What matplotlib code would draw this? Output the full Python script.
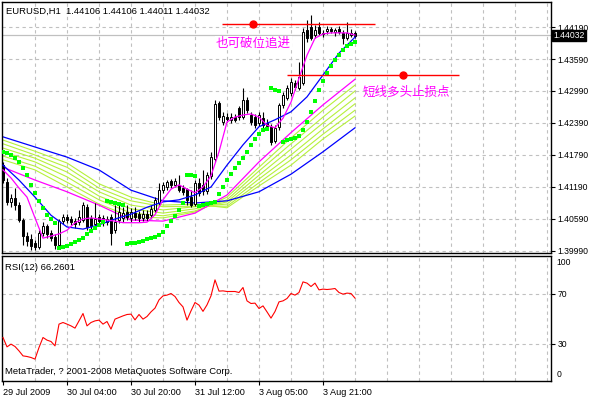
#!/usr/bin/env python3
import numpy as np
import matplotlib
matplotlib.use('Agg')
import matplotlib.pyplot as plt
import matplotlib.transforms as mtransforms

plt.rcParams['font.family'] = ['Liberation Sans', 'DejaVu Sans']

# EURUSD H1 candles, oldest first
opens = [1.4160, 1.4128, 1.4091, 1.4098, 1.4085, 1.4057, 1.4027, 1.4022, 1.4014, 1.4007,
         1.4033, 1.4046, 1.4033, 1.4025, 1.4010, 1.4055, 1.4063, 1.4059, 1.4055, 1.4053,
         1.4057, 1.4082, 1.4061, 1.4050, 1.4063, 1.4061, 1.4053, 1.4063, 1.4038, 1.4057,
         1.4061, 1.4072, 1.4061, 1.4070, 1.4068, 1.4061, 1.4068, 1.4067, 1.4076, 1.4089,
         1.4113, 1.4119, 1.4130, 1.4123, 1.4123, 1.4117, 1.4115, 1.4100, 1.4087, 1.4127,
         1.4123, 1.4112, 1.4140, 1.4172, 1.4277, 1.4241, 1.4250, 1.4245, 1.4250, 1.4267,
         1.4250, 1.4282, 1.4254, 1.4250, 1.4239, 1.4248, 1.4239, 1.4232, 1.4205, 1.4232,
         1.4273, 1.4286, 1.4295, 1.4314, 1.4305, 1.4314, 1.4413, 1.4419, 1.4404, 1.4419,
         1.4408, 1.4411, 1.4415, 1.4410, 1.4415, 1.4408, 1.4398, 1.4404, 1.4408]
highs = [1.4166, 1.4136, 1.4106, 1.4117, 1.4091, 1.4061, 1.4035, 1.4031, 1.4020, 1.4038,
         1.4053, 1.4050, 1.4038, 1.4031, 1.4059, 1.4068, 1.4068, 1.4065, 1.4061, 1.4076,
         1.4091, 1.4087, 1.4067, 1.4089, 1.4068, 1.4067, 1.4065, 1.4068, 1.4085, 1.4085,
         1.4082, 1.4085, 1.4080, 1.4082, 1.4074, 1.4076, 1.4076, 1.4085, 1.4100, 1.4127,
         1.4128, 1.4132, 1.4134, 1.4136, 1.4141, 1.4123, 1.4117, 1.4113, 1.4132, 1.4136,
         1.4151, 1.4147, 1.4185, 1.4282, 1.4280, 1.4260, 1.4258, 1.4258, 1.4256, 1.4271,
         1.4305, 1.4288, 1.4260, 1.4256, 1.4260, 1.4260, 1.4247, 1.4237, 1.4235, 1.4277,
         1.4297, 1.4310, 1.4323, 1.4320, 1.4353, 1.4417, 1.4432, 1.4441, 1.4423, 1.4428,
         1.4413, 1.4421, 1.4419, 1.4417, 1.4421, 1.4413, 1.4428, 1.4415, 1.4411]
lows = [1.4127, 1.4085, 1.4082, 1.4076, 1.4053, 1.4010, 1.4008, 1.4001, 1.4001, 1.4003,
        1.4027, 1.4023, 1.4018, 1.4003, 1.4007, 1.4050, 1.4052, 1.4048, 1.4042, 1.4048,
        1.4053, 1.4038, 1.4040, 1.4046, 1.4050, 1.4046, 1.4048, 1.4010, 1.4033, 1.4052,
        1.4053, 1.4057, 1.4053, 1.4057, 1.4053, 1.4055, 1.4055, 1.4061, 1.4072, 1.4085,
        1.4108, 1.4113, 1.4117, 1.4119, 1.4110, 1.4104, 1.4085, 1.4082, 1.4083, 1.4102,
        1.4104, 1.4106, 1.4134, 1.4166, 1.4245, 1.4235, 1.4241, 1.4239, 1.4241, 1.4245,
        1.4247, 1.4258, 1.4235, 1.4230, 1.4233, 1.4230, 1.4226, 1.4198, 1.4202, 1.4226,
        1.4267, 1.4282, 1.4290, 1.4301, 1.4301, 1.4310, 1.4391, 1.4395, 1.4398, 1.4404,
        1.4400, 1.4406, 1.4408, 1.4402, 1.4406, 1.4387, 1.4395, 1.4400, 1.4398]
closes = [1.4132, 1.4091, 1.4098, 1.4085, 1.4057, 1.4027, 1.4018, 1.4008, 1.4007, 1.4033,
          1.4046, 1.4031, 1.4023, 1.4010, 1.4055, 1.4063, 1.4057, 1.4053, 1.4050, 1.4063,
          1.4085, 1.4044, 1.4046, 1.4059, 1.4055, 1.4053, 1.4059, 1.4033, 1.4053, 1.4072,
          1.4070, 1.4063, 1.4072, 1.4063, 1.4061, 1.4068, 1.4061, 1.4078, 1.4095, 1.4113,
          1.4123, 1.4128, 1.4123, 1.4130, 1.4113, 1.4110, 1.4095, 1.4085, 1.4127, 1.4108,
          1.4112, 1.4141, 1.4175, 1.4275, 1.4250, 1.4252, 1.4247, 1.4250, 1.4245, 1.4250,
          1.4282, 1.4263, 1.4241, 1.4235, 1.4254, 1.4235, 1.4233, 1.4203, 1.4230, 1.4273,
          1.4292, 1.4305, 1.4316, 1.4307, 1.4325, 1.4410, 1.4398, 1.4398, 1.4413, 1.4408,
          1.4406, 1.4415, 1.4411, 1.4413, 1.4410, 1.4398, 1.4408, 1.4408, 1.4403]

# slow averages, read every 8 bars
slow_blue = [1.4213, 1.4194, 1.4175, 1.4151, 1.4113, 1.4093, 1.4089, 1.4093, 1.4110, 1.4143, 1.4185, 1.4230]
slow_magenta = [1.4156, 1.4132, 1.4110, 1.4085, 1.4057, 1.4055, 1.4070, 1.4104, 1.4166, 1.4221, 1.4273, 1.4321]
ribbon_1 = [1.4170, 1.4151, 1.4119, 1.4087, 1.4063, 1.4061, 1.4072, 1.4100, 1.4156, 1.4211, 1.4263, 1.4310]
ribbon_2 = [1.4177, 1.4158, 1.4128, 1.4095, 1.4070, 1.4065, 1.4074, 1.4095, 1.4149, 1.4200, 1.4250, 1.4299]
ribbon_3 = [1.4185, 1.4166, 1.4138, 1.4102, 1.4078, 1.4070, 1.4078, 1.4091, 1.4141, 1.4190, 1.4239, 1.4286]
ribbon_4 = [1.4192, 1.4173, 1.4147, 1.4110, 1.4085, 1.4076, 1.4082, 1.4087, 1.4134, 1.4179, 1.4228, 1.4275]
ribbon_5 = [1.4200, 1.4179, 1.4156, 1.4117, 1.4093, 1.4082, 1.4083, 1.4083, 1.4127, 1.4170, 1.4218, 1.4263]
ribbon_6 = [1.4207, 1.4186, 1.4164, 1.4125, 1.4100, 1.4085, 1.4087, 1.4080, 1.4121, 1.4160, 1.4209, 1.4252]

# fast blue average, read every 4 bars
fast_blue = [1.4160, 1.4132, 1.4100, 1.4066, 1.4044, 1.4040, 1.4048, 1.4059, 1.4068, 1.4081, 1.4091, 1.4095,
             1.4104, 1.4119, 1.4160, 1.4198, 1.4232, 1.4245, 1.4260, 1.4288, 1.4329, 1.4370, 1.4400]

# fast magenta average, read every 2 bars
fast_magenta = [1.4151, 1.4136, 1.4117, 1.4100, 1.4061, 1.4023, 1.4027, 1.4031, 1.4038, 1.4052,
                1.4059, 1.4061, 1.4059, 1.4057, 1.4055, 1.4052, 1.4052, 1.4052, 1.4053, 1.4067,
                1.4095, 1.4115, 1.4123, 1.4115, 1.4108, 1.4119, 1.4140, 1.4185, 1.4241, 1.4250,
                1.4254, 1.4256, 1.4250, 1.4235, 1.4230, 1.4248, 1.4278, 1.4323, 1.4366, 1.4398,
                1.4406, 1.4408, 1.4408, 1.4408, 1.4404]

# parabolic SAR, one dot per bar
sar = [1.4185, 1.4183, 1.4179, 1.4173, 1.4166, 1.4155, 1.4141, 1.4123, 1.4108, 1.4093,
       1.4080, 1.4066, 1.4059, 1.4052, 1.4005, 1.4007, 1.4008, 1.4012, 1.4016, 1.4020,
       1.4023, 1.4031, 1.4037, 1.4042, 1.4048, 1.4053, 1.4093, 1.4091, 1.4089, 1.4087,
       1.4085, 1.4012, 1.4014, 1.4014, 1.4016, 1.4018, 1.4022, 1.4023, 1.4025, 1.4029,
       1.4035, 1.4046, 1.4055, 1.4065, 1.4076, 1.4089, 1.4141, 1.4141, 1.4140, 1.4083,
       1.4085, 1.4087, 1.4089, 1.4091, 1.4106, 1.4119, 1.4132, 1.4143, 1.4155, 1.4164,
       1.4173, 1.4185, 1.4198, 1.4209, 1.4218, 1.4226, 1.4228, 1.4305, 1.4301, 1.4299,
       1.4203, 1.4207, 1.4209, 1.4211, 1.4215, 1.4226, 1.4241, 1.4260, 1.4280, 1.4301,
       1.4318, 1.4333, 1.4346, 1.4357, 1.4366, 1.4376, 1.4383, 1.4387, 1.4391]

# RSI(12), one value per bar
rsi = [34.8, 27.3, 29.5, 27.6, 24.1, 20.1, 19.6, 18.8, 17.5, 26.8,
       34.8, 32.7, 31.6, 28.1, 45.5, 46.8, 45.5, 44.1, 42.3, 48.1,
       54.0, 44.1, 46.8, 48.1, 48.7, 45.5, 47.6, 41.5, 49.5, 50.8,
       52.1, 53.2, 53.5, 48.9, 53.2, 49.5, 51.6, 55.3, 58.3, 64.9,
       68.1, 68.7, 70.0, 67.6, 62.8, 59.3, 48.7, 56.1, 62.8, 60.7,
       55.7, 60.9, 68.1, 80.9, 71.9, 72.1, 71.6, 71.6, 71.6, 70.8,
       74.8, 64.1, 62.0, 62.3, 58.0, 60.1, 55.3, 50.3, 55.6, 63.3,
       64.1, 66.0, 70.0, 68.7, 70.8, 79.3, 78.3, 75.6, 78.3, 72.9,
       73.5, 73.2, 73.5, 74.0, 70.8, 69.5, 70.3, 70.0, 66.3]

time_labels = ['29 Jul 2009', '30 Jul 04:00', '30 Jul 20:00', '31 Jul 12:00', '3 Aug 05:00', '3 Aug 21:00']
price_ticks = [1.39990, 1.40590, 1.41190, 1.41790, 1.42390, 1.42990, 1.43590, 1.44190]
last_price = 1.44032
breakout_level = 1.44246
stop_level = 1.43290

W, H = 589, 398
GRID = dict(color='#c0c0c0', lw=0.8, linestyle=(0, (3, 3)), zorder=0)
TICK_FS = 6.2


def box(x0, y0, x1, y1):
    return [x0 / W, 1 - y1 / H, (x1 - x0) / W, (y1 - y0) / H]


fig = plt.figure(figsize=(W / 100, H / 100), dpi=100)
ax = fig.add_axes(box(2, 2, 551, 253))
ax2 = fig.add_axes(box(2, 256, 551, 381))

opens, highs, lows, closes = map(np.array, (opens, highs, lows, closes))
bars = np.arange(len(opens))

for a in (ax, ax2):
    a.set_xlim(-0.25, 137)
    for s in a.spines.values():
        s.set_linewidth(1.0)
    for g in range(8, 137, 8):
        a.axvline(g, **GRID)

# ---- price panel
ax.set_ylim(1.39952, 1.44659)
for p in price_ticks:
    ax.axhline(p, **GRID)
ax.axhline(last_price, color='#c0c0c0', lw=0.9, zorder=1)

slow_x = bars[::8]
for r in (ribbon_1, ribbon_2, ribbon_3, ribbon_4, ribbon_5, ribbon_6):
    ax.plot(slow_x, r, color='#b6f03c', lw=0.8, zorder=2)
ax.plot(slow_x, slow_blue, color='#0000ff', lw=0.9, zorder=2)
ax.plot(slow_x, slow_magenta, color='#ff00ff', lw=0.9, zorder=2)

up = closes >= opens
lo = np.minimum(opens, closes)
hi = np.maximum(opens, closes)
ax.vlines(bars, lows, highs, color='black', lw=0.8, zorder=3)
ax.bar(bars, np.maximum(hi - lo, 0.00004), bottom=lo, width=0.65,
       color=np.where(up, 'white', 'black'), edgecolor='black', linewidth=0.7, zorder=4)

ax.plot(bars[::4], fast_blue, color='#0000ff', lw=0.9, zorder=5)
ax.plot(bars[::2], fast_magenta, color='#ff00ff', lw=0.9, zorder=5)
ax.plot(bars, sar, 's', color='#00ff00', ms=3.3, mew=0, zorder=6)

# drawn levels and notes
ax.hlines(breakout_level, 54.75, 93, color='red', lw=1.0, zorder=7)
ax.plot(62.5, breakout_level, 'o', color='red', ms=5, zorder=7)
ax.hlines(stop_level, 71, 114, color='red', lw=1.0, zorder=7)
ax.plot(100, stop_level, 'o', color='red', ms=5, zorder=7)
ax.text(62.6, 1.43890, '也可破位追进', color='#ff00ff', fontsize=9, ha='center', va='center',
        family=['Noto Sans CJK SC'], zorder=8,
        bbox=dict(facecolor='white', edgecolor='none', pad=0.5))
ax.text(100.8, 1.42971, '短线多头止损点', color='#ff00ff', fontsize=9, ha='center', va='center',
        family=['Noto Sans CJK SC'], zorder=8)

ax.set_xticks([])
ax.yaxis.tick_right()
ax.set_yticks(price_ticks)
ax.set_yticklabels([f'{p:.5f}' for p in price_ticks], fontsize=TICK_FS)
ax.tick_params(axis='y', length=3, width=0.8, pad=1.5)

tr = mtransforms.blended_transform_factory(ax.transAxes, ax.transData)
ax.text(1.0045, last_price - 0.00005, f'{last_price:.5f}', transform=tr, color='white',
        fontsize=TICK_FS, ha='left', va='center', zorder=10, clip_on=False,
        bbox=dict(facecolor='black', edgecolor='black', pad=0.9))

fig.text(6 / W, 1 - 11 / H, 'EURUSD,H1  1.44106 1.44106 1.44011 1.44032', fontsize=6.8,
         ha='left', va='center')

# ---- RSI panel
ax2.set_ylim(0, 100)
for lvl in (30, 70):
    ax2.axhline(lvl, **GRID)
ax2.plot(bars, rsi, color='#ff0000', lw=0.8, zorder=3)
ax2.yaxis.tick_right()
ax2.set_yticks([30, 70])
ax2.set_yticklabels(['30', '70'], fontsize=TICK_FS)
ax2.tick_params(axis='y', length=3, width=0.8, pad=1.5)
tr2 = mtransforms.blended_transform_factory(ax2.transAxes, ax2.transData)
ax2.text(1.01, 94.5, '100', transform=tr2, fontsize=TICK_FS, ha='left', va='center', clip_on=False)
ax2.text(1.01, 5, '0', transform=tr2, fontsize=TICK_FS, ha='left', va='center', clip_on=False)

ax2.set_xticks(bars[::16][:len(time_labels)])
ax2.set_xticklabels(time_labels, fontsize=6.6, ha='left')
ax2.tick_params(axis='x', length=3, width=0.8, pad=2)

fig.text(5 / W, 1 - 268 / H, 'RSI(12) 66.2601', fontsize=6.8, ha='left', va='center')
fig.text(5 / W, 1 - 372 / H, 'MetaTrader, ? 2001-2008 MetaQuotes Software Corp.', fontsize=6.8,
         ha='left', va='center')

fig.savefig('out.png', dpi=100, facecolor='white')
